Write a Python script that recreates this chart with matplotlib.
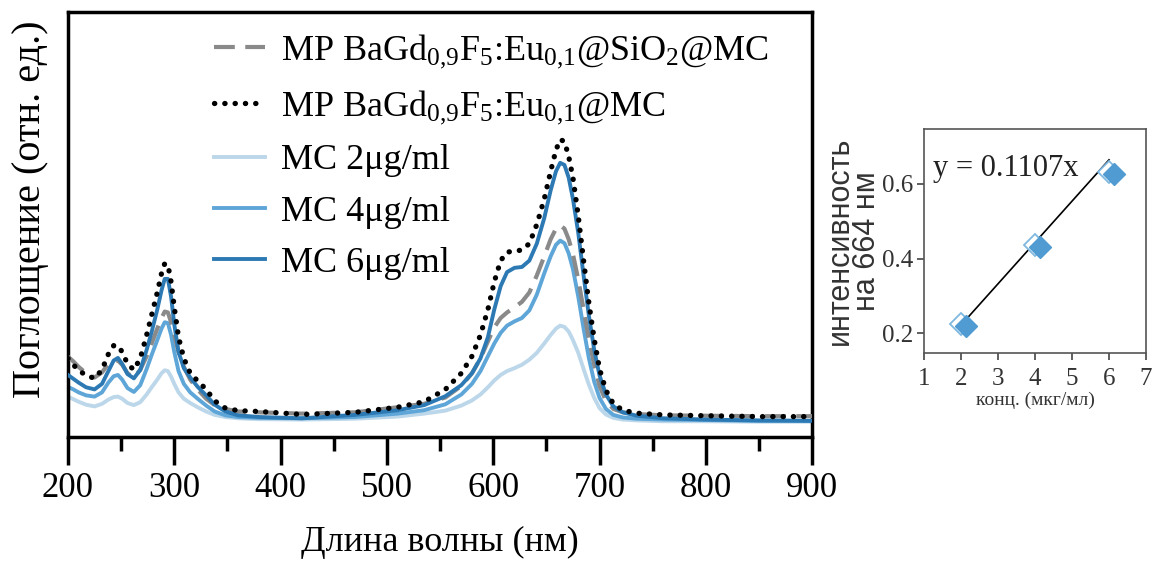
import matplotlib
matplotlib.use("Agg")
import matplotlib.pyplot as plt
import matplotlib.transforms as mtransforms
from matplotlib.ticker import MultipleLocator

plt.rcParams['font.family'] = ['Liberation Serif', 'DejaVu Serif']
plt.rcParams['mathtext.fontset'] = 'custom'
plt.rcParams['mathtext.rm'] = 'Liberation Serif'
plt.rcParams['mathtext.it'] = 'Liberation Serif:italic'
plt.rcParams['mathtext.bf'] = 'Liberation Serif:bold'

# absorption spectra, wavelength in nm
wavelength = [200, 205, 210, 217, 225, 232, 238, 243, 247, 251, 256, 262, 268, 274, 279,
              284, 288, 291, 294, 297, 300, 304, 309, 315, 322, 330, 338, 348, 360, 380,
              420, 470, 510, 535, 555, 570, 580, 588, 595, 601, 607, 613, 620, 627, 634,
              641, 648, 654, 659, 663, 667, 671, 675, 680, 685, 690, 695, 700, 706, 713,
              722, 735, 760, 800, 850, 900]

mp_sio2_mc = [.189, .178, .165, .150, .140, .152, .172, .180, .180, .170, .150, .140, .158, .190, .222,
              .255, .280, .295, .293, .270, .240, .200, .165, .135, .112, .090, .075, .066, .060, .058,
              .055, .058, .070, .078, .093, .120, .150, .185, .225, .258, .280, .293, .305, .318, .340,
              .380, .425, .465, .490, .498, .490, .465, .430, .370, .300, .230, .170, .120, .085, .066,
              .058, .054, .051, .050, .049, .049]
mp_mc = [.185, .170, .157, .145, .138, .158, .195, .215, .215, .200, .172, .158, .185, .240, .290,
         .340, .385, .408, .405, .365, .305, .235, .185, .150, .132, .112, .085, .068, .062, .060,
         .053, .058, .070, .083, .112, .150, .190, .240, .300, .365, .415, .435, .437, .440, .455,
         .500, .560, .625, .675, .700, .695, .660, .610, .520, .415, .315, .230, .160, .110, .078,
         .063, .056, .052, .050, .048, .048]
mc_2 = [.095, .089, .083, .076, .072, .078, .088, .094, .095, .090, .080, .075, .082, .100, .118,
        .135, .150, .157, .155, .142, .125, .105, .090, .080, .070, .060, .052, .047, .044, .042,
        .041, .043, .048, .055, .062, .074, .086, .100, .117, .133, .146, .155, .162, .170, .182,
        .198, .220, .240, .255, .262, .259, .248, .228, .198, .160, .123, .092, .068, .053, .045,
        .041, .039, .037, .037, .036, .036]
mc_4 = [.118, .112, .105, .098, .095, .105, .128, .143, .146, .135, .115, .106, .122, .160, .195,
        .228, .255, .270, .268, .240, .200, .155, .125, .105, .090, .074, .060, .051, .047, .045,
        .044, .047, .055, .063, .077, .100, .125, .155, .190, .220, .245, .262, .272, .280, .298,
        .335, .385, .425, .452, .462, .456, .432, .395, .330, .255, .185, .130, .092, .066, .052,
        .046, .043, .041, .040, .038, .038]
mc_6 = [.146, .137, .128, .117, .112, .125, .155, .180, .186, .172, .148, .138, .158, .205, .250,
        .300, .345, .372, .372, .330, .265, .200, .162, .140, .118, .098, .076, .060, .051, .047,
        .044, .052, .063, .075, .096, .122, .150, .185, .235, .300, .355, .388, .398, .400, .415,
        .455, .515, .580, .625, .645, .640, .610, .560, .480, .380, .285, .205, .145, .100, .072,
        .058, .050, .044, .041, .039, .038]

# intensity at 664 nm vs concentration
conc = [2, 4, 6]
intensity = [0.224, 0.437, 0.632]
slope = 0.1107

c_light = '#bcd7ea'
c_mid = '#5ea5d8'
c_dark = '#2c79b4'

fig = plt.figure(figsize=(11.52, 5.63), dpi=100)
ax = fig.add_axes([0.059, 0.2238, 0.646, 0.755])

ax.plot(wavelength, mp_sio2_mc, color='#8a8a8a', lw=3, linestyle=(0, (5, 2.5)),
        label=r'MP BaGd$_{0{,}9}$F$_5$:Eu$_{0{,}1}$@SiO$_2$@MC', zorder=3)
ax.plot(wavelength, mp_mc, color='black', lw=3.8, linestyle=(0, (0.05, 1.9)),
        dash_capstyle='round', label=r'MP BaGd$_{0{,}9}$F$_5$:Eu$_{0{,}1}$@MC', zorder=5)
ax.plot(wavelength, mc_2, color=c_light, lw=2.8, label='MC 2μg/ml', zorder=2)
ax.plot(wavelength, mc_4, color=c_mid, lw=2.8, label='MC 4μg/ml', zorder=2)
ax.plot(wavelength, mc_6, color=c_dark, lw=2.8, label='MC 6μg/ml', zorder=4)

ax.set_xlim(200, 900)
ax.set_ylim(0, 1)
ax.set_yticks([])
ax.xaxis.set_major_locator(MultipleLocator(100))
ax.xaxis.set_minor_locator(MultipleLocator(50))
ax.tick_params(axis='x', which='major', direction='out', length=20, width=2.5,
               labelsize=25, pad=5)
ax.tick_params(axis='x', which='minor', direction='out', length=10, width=2.5)
for s in ax.spines.values():
    s.set_linewidth(2.5)
ax.set_xlabel('Длина волны (нм)', fontsize=26, labelpad=15)
ax.set_ylabel('Поглощение (отн. ед.)', fontsize=29)
ax.yaxis.set_label_coords(-0.026, 0.535)

leg = ax.legend(loc='upper left', bbox_to_anchor=(0.17, 1.0), frameon=False,
                fontsize=26, handlelength=1.4, handletextpad=0.45,
                labelspacing=0.5, borderaxespad=0.15)

# inset: calibration at 664 nm
ax2 = fig.add_axes([0.802, 0.373, 0.1928, 0.398])
ax2.plot([conc[0], conc[-1]], [slope * conc[0], slope * conc[-1]], color='black', lw=1.2, zorder=2)
ax2.plot(conc, intensity, 'D', ms=11, mfc='white', mec='#7fb8e0', mew=1.3, zorder=3)
shift = mtransforms.offset_copy(ax2.transData, fig=fig, x=5, y=-2, units='dots')
ax2.plot(conc, intensity, 'D', ms=11, color='#4f9bd2', mec='#4f9bd2',
         transform=shift, zorder=4)
ax2.set_xlim(1, 7)
ax2.set_ylim(0.147, 0.747)
ax2.set_xticks([1, 2, 3, 4, 5, 6, 7])
ax2.set_yticks([0.2, 0.4, 0.6])
ax2.tick_params(direction='out', length=5, width=1.2, color='#444444', labelsize=18,
                labelcolor='#333333')
ax2.tick_params(axis='x', pad=6)
ax2.tick_params(axis='y', pad=3)
for s in ax2.spines.values():
    s.set_linewidth(1.2)
    s.set_color('#555555')
ax2.text(1.25, 0.64, 'y = 0.1107x', fontsize=22, va='center', ha='left', color='#222222')
ax2.set_xlabel('конц. (мкг/мл)', fontsize=14, labelpad=1, color='#333333')
ax2.set_ylabel('интенсивность\nна 664 нм', fontsize=22, labelpad=0, linespacing=0.85,
               color='#333333', family=['Liberation Sans', 'DejaVu Sans'])

fig.savefig('out.png', dpi=100)
